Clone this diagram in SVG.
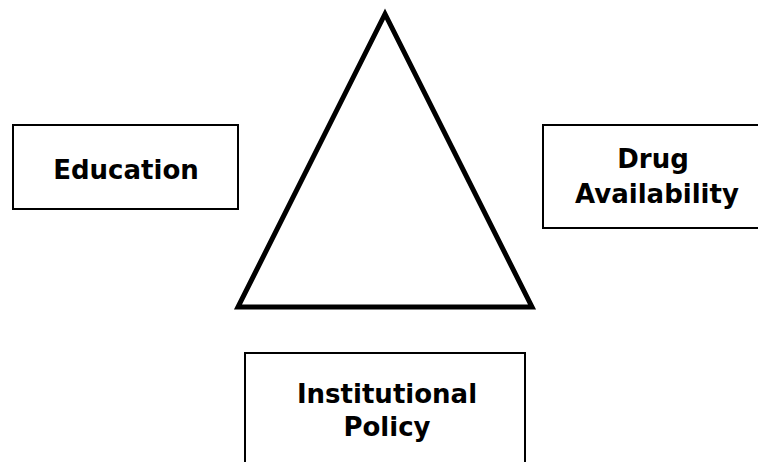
<svg xmlns="http://www.w3.org/2000/svg" width="758" height="462" viewBox="0 0 758 462">
<style>
.box{fill:#fff;stroke:#000;stroke-width:2}
.lbl{font-family:"DejaVu Sans",sans-serif;font-weight:bold;font-size:26px;fill:#000;text-anchor:middle}
</style>
<rect width="758" height="462" fill="#fff"/>
<g id="triangle">
<polygon points="385,14 238,307 532,307" fill="#fff" stroke="#000" stroke-width="5" stroke-linejoin="miter"/>
</g>
<g id="education">
<rect class="box" x="13" y="125" width="225" height="84"/>
<text class="lbl" x="126" y="179">Education</text>
</g>
<g id="drug">
<rect class="box" x="543" y="125" width="230" height="103"/>
<text class="lbl" x="653" y="168">Drug</text>
<text class="lbl" x="657" y="203">Availability</text>
</g>
<g id="policy">
<rect class="box" x="245" y="353" width="280" height="130"/>
<text class="lbl" x="387" y="403">Institutional</text>
<text class="lbl" x="387" y="436">Policy</text>
</g>
<g id="connectors"></g>
</svg>
